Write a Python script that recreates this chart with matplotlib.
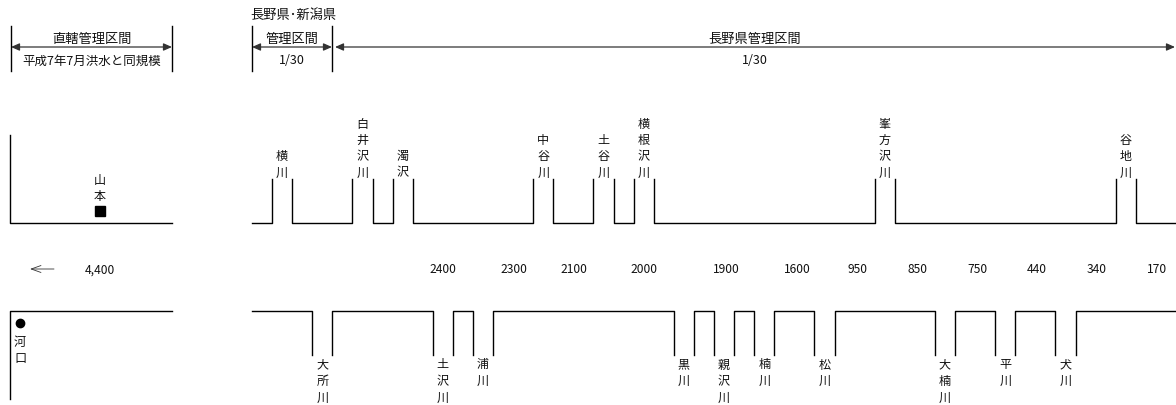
import matplotlib
matplotlib.use("Agg")
import matplotlib.pyplot as plt

plt.rcParams['font.family'] = ['Noto Sans CJK JP', 'DejaVu Sans']

# ---- data ----
section_titles = ["直轄管理区間", "管理区間", "長野県管理区間"]
section_subtitles = ["平成7年7月洪水と同規模", "1/30", "1/30"]
section_header = "長野県･新潟県"

upper_tributaries = ["横川", "白井沢川", "濁沢", "中谷川", "土谷川", "横根沢川", "峯方沢川", "谷地川"]
lower_tributaries = ["大所川", "土沢川", "浦川", "黒川", "親沢川", "楠川", "松川", "大楠川", "平川", "犬川"]

flow_labels = ["4,400", "2400", "2300", "2100", "2000", "1900", "1600", "950", "850", "750", "440", "340", "170"]

upper_station = "山本"
lower_station = "河口"

# ---- layout (pixel coordinates) ----
W, H = 1176, 406
grid_x0, grid_x1, grid_n = 252, 1176, 46
unit = (grid_x1 - grid_x0) / grid_n
upper_idx = [1, 5, 7, 14, 17, 19, 31, 43]
lower_idx = [3, 9, 11, 21, 23, 25, 28, 34, 37, 40]
flow_x = [100, 443, 514, 574, 644, 726, 797, 857, 917, 977, 1037, 1097, 1157]

fig = plt.figure(figsize=(W / 100, H / 100), dpi=100)
ax = fig.add_axes([0, 0, 1, 1])
ax.set_xlim(0, W)
ax.set_ylim(H, 0)
ax.axis('off')

LC = 'black'
LW = 1.0
TC = '#111111'
FS = 8.7

# ---- header sections ----
sec_bounds = [(11, 172), (252, 332), (335, 1175)]
for i, (a, b) in enumerate(sec_bounds):
    cx = (a + b) / 2
    ax.text(cx, 39, section_titles[i], ha='center', va='center', fontsize=9.5, color=TC)
    ax.text(cx, 61, section_subtitles[i], ha='center', va='center', fontsize=9, color=TC)
    ax.annotate('', xy=(b, 48), xytext=(a, 48),
                arrowprops=dict(arrowstyle='<|-|>,head_length=0.5,head_width=0.22',
                                color='#333', lw=0.9, shrinkA=0, shrinkB=0))
for xb in [11, 172, 252, 332]:
    ax.plot([xb, xb], [27, 72], color=LC, lw=LW)
ax.text(293, 15, section_header, ha='center', va='center', fontsize=9.5, color=TC)


def vtext(x, y0, s, step, from_bottom):
    n = len(s)
    for k, ch in enumerate(s):
        if from_bottom:
            y = y0 - (n - 1 - k) * step
        else:
            y = y0 + k * step
        ax.text(x, y, ch, ha='center', va='center', fontsize=FS, color=TC)


# ---- upper channel ----
yb, yt = 224, 180
ax.plot([10, 10, 172], [136, yb, yb], color=LC, lw=LW)
ax.plot([100], [212], marker='s', ms=6.5, color='black', ls='none')
vtext(100, 181, upper_station, 15.5, False)

xs, ys = [grid_x0], [yb]
for name, k in zip(upper_tributaries, upper_idx):
    a = grid_x0 + k * unit
    b = a + unit
    xs += [a, a]
    ys += [yb, yt]
    ax.plot(xs, ys, color=LC, lw=LW)
    xs, ys = [b, b], [yt, yb]
    vtext((a + b) / 2, 173, name, 16.2, True)
xs.append(grid_x1)
ys.append(yb)
ax.plot(xs, ys, color=LC, lw=LW)

# ---- flow values ----
ax.annotate('', xy=(30, 270), xytext=(54, 270),
            arrowprops=dict(arrowstyle='->,head_length=0.7,head_width=0.25',
                            color='#333', lw=0.6, shrinkA=0, shrinkB=0))
for x, lab in zip(flow_x, flow_labels):
    ax.text(x, 270, lab, ha='center', va='center', fontsize=FS, color=TC)

# ---- lower channel ----
yt2, yb2 = 312, 356
ax.plot([172, 10, 10], [yt2, yt2, 400], color=LC, lw=LW)
ax.plot([20], [324], marker='o', ms=6, color='black', ls='none')
vtext(20, 343, lower_station, 16, False)

xs, ys = [grid_x0], [yt2]
for name, k in zip(lower_tributaries, lower_idx):
    a = grid_x0 + k * unit
    b = a + unit
    xs += [a, a]
    ys += [yt2, yb2]
    ax.plot(xs, ys, color=LC, lw=LW)
    xs, ys = [b, b], [yb2, yt2]
    vtext((a + b) / 2, 365, name, 16.5, False)
xs.append(grid_x1)
ys.append(yt2)
ax.plot(xs, ys, color=LC, lw=LW)

fig.savefig('out.png', dpi=100)
